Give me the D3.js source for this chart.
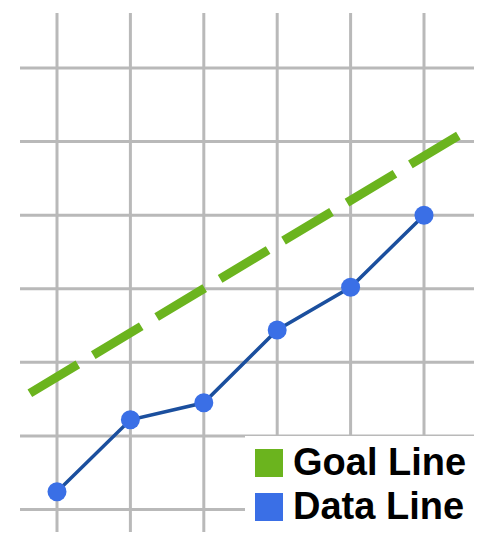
<!DOCTYPE html>
<html>
<head>
<meta charset="utf-8">
<script src="https://cdn.jsdelivr.net/npm/d3@7"></script>
<style>
  html, body { margin: 0; padding: 0; background: #fff; }
  svg { display: block; }
</style>
</head>
<body>
<svg id="chart"></svg>
<script>
// data
const points = [0, 1, 2, 3, 4, 5];
const dataValues = [2.4, 12.2, 14.5, 24.4, 30.2, 40.0];
const goalX = [-0.37, 5.5];
const goalY = [15.8, 51];
const xTicks = [0, 1, 2, 3, 4, 5];
const yTicks = [0, 10, 20, 30, 40, 50, 60];
const legendLabels = ['Goal Line', 'Data Line'];

function drawChart(container) {
  const width = 500;
  const height = 548;
  const gridColor = '#b9b9b9';
  const green = '#6bb41e';
  const blue = '#3a6fe6';
  const darkBlue = '#1b4f9e';

  const x = d3.scaleLinear()
      .domain([0, 5])
      .range([57, 424]);

  const y = d3.scaleLinear()
      .domain([0, 60])
      .range([509.5, 68]);

  const svg = d3.select(container)
      .attr('width', width)
      .attr('height', height);

  // vertical grid lines
  svg.append('g')
      .attr('class', 'grid-x')
    .selectAll('line')
      .data(xTicks)
    .enter().append('line')
      .attr('x1', d => x(d))
      .attr('x2', d => x(d))
      .attr('y1', 13)
      .attr('y2', 532)
      .attr('stroke', gridColor)
      .attr('stroke-width', 3);

  // horizontal grid lines
  svg.append('g')
      .attr('class', 'grid-y')
    .selectAll('line')
      .data(yTicks)
    .enter().append('line')
      .attr('x1', 20)
      .attr('x2', 474)
      .attr('y1', d => y(d))
      .attr('y2', d => y(d))
      .attr('stroke', gridColor)
      .attr('stroke-width', 3);

  // legend box clears the grid behind it
  svg.append('rect')
      .attr('x', 245)
      .attr('y', 436)
      .attr('width', width - 245)
      .attr('height', height - 436)
      .attr('fill', '#fff');

  // goal line (dashed)
  const goal = goalX.map((d, i) => [d, goalY[i]]);
  svg.append('path')
      .datum(goal)
      .attr('fill', 'none')
      .attr('stroke', green)
      .attr('stroke-width', 9)
      .attr('stroke-dasharray', '56 18')
      .attr('d', d3.line().x(d => x(d[0])).y(d => y(d[1])));

  // data line
  const data = points.map((d, i) => ({ x: d, value: dataValues[i] }));
  svg.append('path')
      .datum(data)
      .attr('fill', 'none')
      .attr('stroke', darkBlue)
      .attr('stroke-width', 3.5)
      .attr('d', d3.line().x(d => x(d.x)).y(d => y(d.value)));

  svg.selectAll('.dot')
      .data(data)
    .enter().append('circle')
      .attr('class', 'dot')
      .attr('cx', d => x(d.x))
      .attr('cy', d => y(d.value))
      .attr('r', 9.5)
      .attr('fill', blue);

  // legend
  const legendColors = [green, blue];
  const legend = svg.selectAll('.legend')
      .data(legendLabels)
    .enter().append('g')
      .attr('class', 'legend')
      .attr('transform', (d, i) => `translate(255,${449 + i * 44})`);

  legend.append('rect')
      .attr('width', 28)
      .attr('height', 28)
      .attr('fill', (d, i) => legendColors[i]);

  legend.append('text')
      .attr('x', 38)
      .attr('y', 26)
      .style('font-family', '"Liberation Sans", Arial, sans-serif')
      .style('font-weight', 'bold')
      .style('font-size', '38px')
      .attr('fill', '#000')
      .text(d => d);
}

drawChart('#chart');
</script>
</body>
</html>
